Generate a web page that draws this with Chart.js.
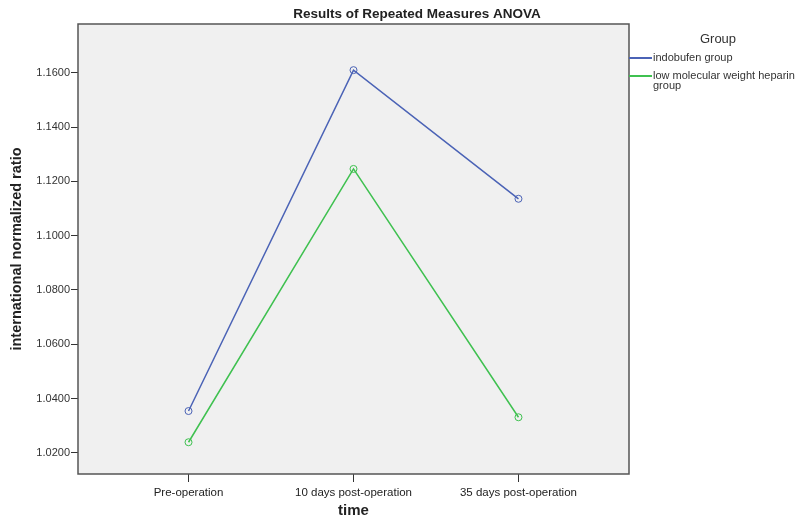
<!DOCTYPE html>
<html>
<head>
<meta charset="utf-8">
<script src="https://cdn.jsdelivr.net/npm/chart.js@4.4.1/dist/chart.umd.min.js"></script>
<style>
  html, body { margin: 0; padding: 0; background: #fff; }
  #wrap { width: 805px; height: 524px; position: relative; }
</style>
</head>
<body>
<div id="wrap"><canvas id="chart"></canvas></div>
<script>
const categories = ['Pre-operation', '10 days post-operation', '35 days post-operation'];
const indobufen = [1.0354, 1.1610, 1.1136];
const lmwh = [1.0239, 1.1246, 1.0331];
const yTicks = [1.02, 1.04, 1.06, 1.08, 1.10, 1.12, 1.14, 1.16];
const seriesNames = ['indobufen group', 'low molecular weight heparin group'];

const FONT = '"Liberation Sans", Arial, sans-serif';

function toPoints(values) {
  return values.map((v, i) => ({ x: i, y: v }));
}

// plot frame + title + legend, drawn the SPSS way
const frame = {
  id: 'frame',
  beforeDatasetsDraw(chart) {
    const { ctx, chartArea: a } = chart;
    ctx.save();
    ctx.fillStyle = '#f0f0f0';
    ctx.fillRect(a.left, a.top, a.right - a.left, a.bottom - a.top);
    ctx.restore();
  },
  afterDraw(chart) {
    const { ctx, chartArea: a } = chart;
    ctx.save();
    ctx.strokeStyle = '#555';
    ctx.lineWidth = 1.5;
    ctx.strokeRect(a.left, a.top, a.right - a.left, a.bottom - a.top);

    ctx.fillStyle = '#222';
    ctx.font = `bold 13.5px ${FONT}`;
    ctx.textAlign = 'center';
    ctx.textBaseline = 'middle';
    ctx.fillText('Results of Repeated Measures ANOVA', 417, 14);

    ctx.fillStyle = '#333';
    ctx.font = `13px ${FONT}`;
    ctx.fillText('Group', 718, 39);

    ctx.textAlign = 'left';
    ctx.font = `11px ${FONT}`;
    const rows = [[seriesNames[0]], ['low molecular weight heparin', 'group']];
    const ys = [58, 76];
    chart.data.datasets.forEach((ds, i) => {
      ctx.strokeStyle = ds.borderColor;
      ctx.lineWidth = 2;
      ctx.beginPath();
      ctx.moveTo(a.right, ys[i]);
      ctx.lineTo(a.right + 23, ys[i]);
      ctx.stroke();
      rows[i].forEach((t, j) => ctx.fillText(t, a.right + 24, ys[i] + j * 9.5));
    });
    ctx.restore();
  },
};

const seriesStyle = (color) => ({
  borderColor: color,
  backgroundColor: 'rgba(0,0,0,0)',
  borderWidth: 1.5,
  pointRadius: 3.5,
  pointBorderWidth: 1,
  pointBorderColor: color,
  pointBackgroundColor: 'rgba(0,0,0,0)',
  tension: 0,
});

new Chart(document.getElementById('chart'), {
  type: 'line',
  data: {
    datasets: [
      { label: seriesNames[0], data: toPoints(indobufen), ...seriesStyle('#4b63b6') },
      { label: seriesNames[1], data: toPoints(lmwh), ...seriesStyle('#3fc150') },
    ],
  },
  options: {
    responsive: true,
    maintainAspectRatio: false,
    animation: false,
    layout: { padding: { top: 24, right: 176, left: 0, bottom: 0 } },
    plugins: {
      legend: { display: false },
      tooltip: { enabled: false },
    },
    scales: {
      x: {
        type: 'linear',
        min: -0.67,
        max: 2.67,
        afterBuildTicks: (s) => { s.ticks = categories.map((_, i) => ({ value: i })); },
        afterFit: (s) => { s.height = 50; },
        ticks: {
          callback: (v) => categories[v],
          color: '#222',
          font: { family: FONT, size: 11.5 },
          padding: 4,
          maxRotation: 0,
          autoSkip: false,
        },
        grid: { drawOnChartArea: false, tickLength: 8, color: '#333' },
        border: { display: false },
        title: {
          display: true,
          text: 'time',
          color: '#222',
          font: { family: FONT, size: 15, weight: 'bold' },
          padding: { top: 8 },
        },
      },
      y: {
        min: 1.0122,
        max: 1.178,
        afterBuildTicks: (s) => { s.ticks = yTicks.map((v) => ({ value: v })); },
        afterFit: (s) => { s.width = 78; },
        ticks: {
          callback: (v) => Number(v).toFixed(4),
          color: '#333',
          font: { family: FONT, size: 11 },
          padding: 1,
          autoSkip: false,
        },
        grid: { drawOnChartArea: false, tickLength: 7, color: '#333' },
        border: { display: false },
        title: {
          display: true,
          text: 'international normalized ratio',
          color: '#222',
          font: { family: FONT, size: 14.5, weight: 'bold' },
          padding: { top: 8, bottom: 2 },
        },
      },
    },
  },
  plugins: [frame],
});
</script>
</body>
</html>
